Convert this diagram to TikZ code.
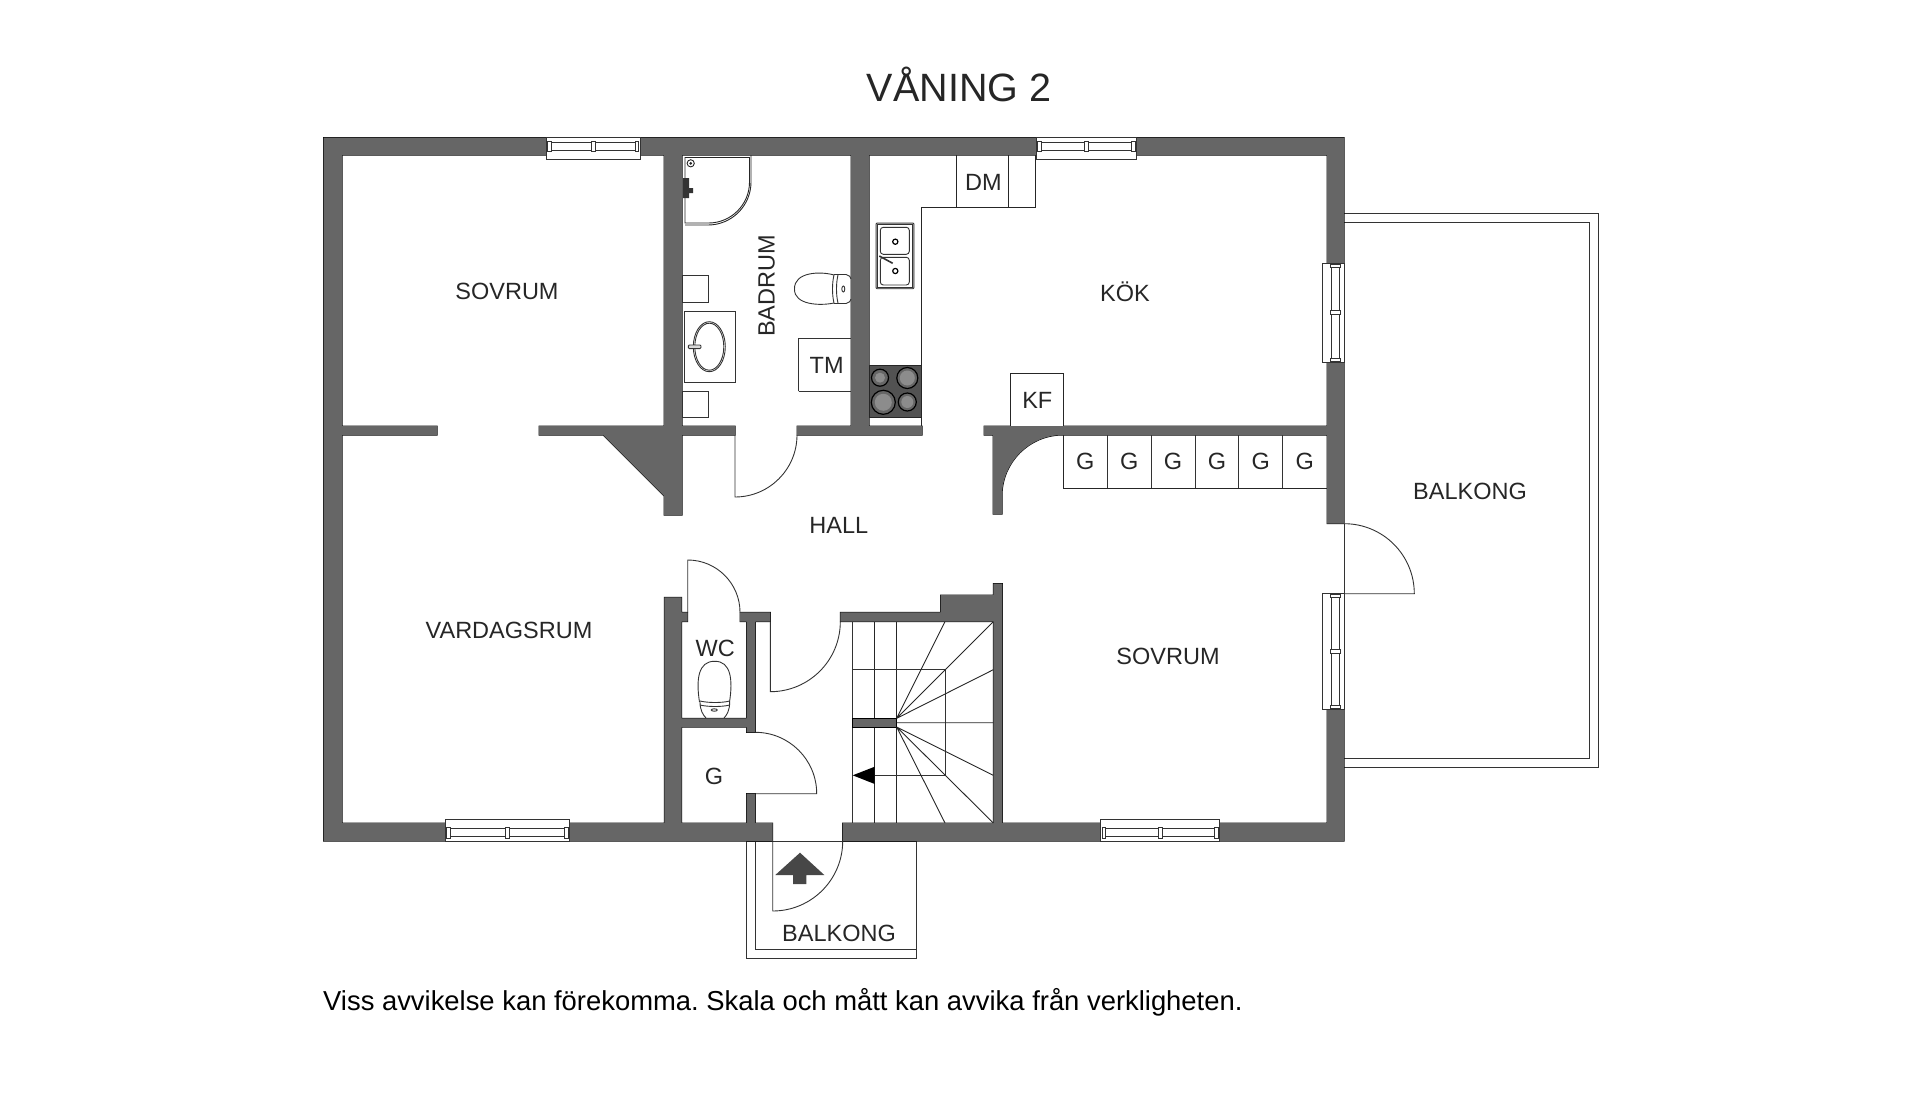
\documentclass[tikz,border=0pt]{standalone}
\usepackage{fontspec}
\setmainfont{Liberation Sans}
\frenchspacing
\definecolor{wallgray}{HTML}{666666}
\definecolor{inkgray}{HTML}{333333}
\tikzset{
  room/.style={text=black!85, font=\fontsize{23.5}{24}\selectfont, inner sep=0pt},
  fixture/.style={draw=black!85, line width=0.9pt},
  light/.style={draw=inkgray, line width=0.9pt},
  door/.style={draw=inkgray, line width=0.9pt},
  glass/.style={draw=black!80, fill=white, line width=0.8pt}
}
% all wall pieces, drawn twice: black edge first, gray fill over it
\newcommand{\wallpieces}{
  (323.5,137.5) rectangle (546,155)
  (640,137.5) rectangle (1036,155)
  (1136.7,137.5) rectangle (1344,155)
  (323.5,137.5) rectangle (342,841)
  (323.5,823) rectangle (445,841)
  (569.4,823) rectangle (772.7,841)
  (842.7,823) rectangle (1100.8,841)
  (1219.6,823) rectangle (1344,841)
  (1327,137.5) rectangle (1344,263.3)
  (1327,362.3) rectangle (1344,523.7)
  (1327,709.3) rectangle (1344,841)
  (664,155) rectangle (682,515)
  (342,426) rectangle (437,435)
  (539,426) rectangle (664,435)
  (603,435) -- (664,496) -- (664,435) -- cycle
  (682,426) rectangle (735,435)
  (797,426) rectangle (922,435)
  (851,155) rectangle (869,426)
  (984,426) rectangle (1327,435)
  (993,435) -- (993,514) -- (1002,514) -- (1002,496) arc[start angle=180,end angle=270,radius=61] -- cycle
  (664.3,597.3) rectangle (681.7,823)
  (681.7,612.3) rectangle (687.7,621.7)
  (740,612.3) rectangle (770.3,621.7)
  (746.7,612.3) rectangle (755.3,732.3)
  (681.7,718.3) rectangle (746.7,727)
  (746.7,793.7) rectangle (755.3,823)
  (840.3,612.3) -- (840.3,621.7) -- (993.3,621.7) -- (993.3,823) -- (1002.3,823) -- (1002.3,583.7) -- (993.3,583.7) -- (993.3,595) -- (940.7,595) -- (940.7,612.3) -- cycle
}
\begin{document}
\begin{tikzpicture}[x=1pt,y=-1pt]
  \useasboundingbox (0,0) rectangle (1920,1095);

  % balconies
  \draw[light] (1344,213.3) -- (1598,213.3) -- (1598,767.7) -- (1344,767.7);
  \draw[light] (1344,222.3) -- (1589,222.3) -- (1589,758.7) -- (1344,758.7);
  \draw[light] (746.7,841) -- (746.7,958.3) -- (916.7,958.3) -- (916.7,841);
  \draw[light] (755,841) -- (755,949.3) -- (916.7,949.3);
  \draw[light] (746.7,841) -- (916.7,841);
  \draw[light] (1344,523.7) -- (1344,593.7);

  % walls
  \draw[black, line width=1pt] \wallpieces;
  \fill[wallgray] \wallpieces;

  % windows along the top and bottom walls
  \foreach \xa/\xb/\ya/\yb/\yc/\yd in {546/640/137.5/159.3/142.5/150.3, 1036/1136.7/137.5/159.3/142.5/150.3,
      445/569.4/819.3/841/828.7/836.7, 1100.8/1219.6/819.3/841/828.7/836.7}{
    \draw[glass] (\xa,\ya) rectangle (\xb,\yb);
    \draw[glass] ({\xa+5},\yc) rectangle ({\xb-5},\yd);
    \draw[glass] ({\xa+1.5},{\yc-1.5}) rectangle ({\xa+5},{\yd+1.5});
    \draw[glass] ({\xb-5},{\yc-1.5}) rectangle ({\xb-1.5},{\yd+1.5});
    \draw[glass] ({(\xa+\xb)/2-2},{\yc-1.5}) rectangle ({(\xa+\xb)/2+2},{\yd+1.5});
  }
  % windows in the right wall
  \foreach \ya/\yb in {263.3/362.3, 593.3/709.3}{
    \draw[glass] (1322.3,\ya) rectangle (1344,\yb);
    \draw[glass] (1331.7,{\ya+4}) rectangle (1339.3,{\yb-4});
    \draw[glass] (1330.2,{\ya+1}) rectangle (1340.8,{\ya+4});
    \draw[glass] (1330.2,{\yb-4}) rectangle (1340.8,{\yb-1});
    \draw[glass] (1330.2,{(\ya+\yb)/2-2}) rectangle (1340.8,{(\ya+\yb)/2+2});
  }

  % doors
  \draw[door] (735,435) -- (735,497) arc[start angle=90,end angle=0,radius=62];
  \draw[door] (687.7,612.3) -- (687.7,560) arc[start angle=-90,end angle=0,radius=52.3];
  \draw[door] (770.3,621.7) -- (770.3,691.7) arc[start angle=90,end angle=0,radius=70];
  \draw[door] (755.3,793.7) -- (816.7,793.7) arc[start angle=0,end angle=-90,radius=61.4];
  \draw[door] (772.7,841) -- (772.7,911) arc[start angle=90,end angle=0,radius=70];
  \draw[door] (1344,593.7) -- (1414.3,593.7) arc[start angle=0,end angle=-90,radius=70];

  % kitchen
  \draw[fixture] (921.3,426) -- (921.3,207.3) -- (1035.7,207.3) -- (1035.7,155);
  \draw[fixture] (956,155) -- (956,207.3) (1008.7,155) -- (1008.7,207.3);
  \draw[fixture, fill=white] (1010.7,426) -- (1010.7,373.7) -- (1063.3,373.7) -- (1063.3,426);
  \draw[fixture, fill=black!68] (869,365) rectangle (921.3,417.3);
  \foreach \cx/\cy/\ra/\rb in {880/377.7/8.5/5, 907.3/378/10.5/7.5, 883.3/402.3/12/8.5, 907.3/402/9/6}{
    \draw[black, line width=1.2pt, fill=black!60] (\cx,\cy) circle[radius=\ra];
    \fill[black!45] (\cx,\cy) circle[radius=\rb];
  }
  \draw[light, rounded corners=1pt, fill=black!30] (876,223) rectangle (914,288.7);
  \draw[light, fill=white] (877.5,224.5) rectangle (912.5,287.2);
  \draw[light, rounded corners=3pt] (880.3,227.3) rectangle (909.3,254.3);
  \draw[light, rounded corners=3pt] (880.3,257.3) rectangle (909.3,285);
  \foreach \cy in {241.7, 271}{
    \draw[black, line width=1.2pt] (895.3,\cy) circle[radius=2.6];
  }
  \draw[light, line width=1.6pt] (879.3,256) -- (892.7,263.3);

  % closets
  \draw[fixture] (1063.3,435) -- (1063.3,488) -- (1327,488);
  \foreach \x in {1107.3,1151,1195,1238.7,1282.7}{
    \draw[light] (\x,435) -- (\x,488);
  }

  % bathroom
  \draw[fixture] (685,157.5) -- (749.5,157.5) -- (749.5,182) arc[start angle=0,end angle=90,radius=41] -- (685,223) -- cycle;
  \draw[fixture] (751,155) -- (751,182) arc[start angle=0,end angle=90,radius=43] -- (685,225);
  \draw[fixture] (690.7,163.3) circle[radius=3.6];
  \fill[black!85] (690.7,163.3) circle[radius=1.5];
  \fill[inkgray] (683,178) rectangle (689,198) (686,188) rectangle (693,193);
  \draw[light] (682,275.7) rectangle (708.7,302.3);
  \draw[light] (684,311) rectangle (735,382.7);
  \draw[light] (682,391.3) rectangle (708.7,417.3);
  \draw[light] (709.3,346.7) ellipse[x radius=16,y radius=25];
  \draw[light] (709.3,346.7) ellipse[x radius=14.5,y radius=23.5];
  \draw[light, rounded corners=1pt, fill=black!15] (688.3,345) rectangle (701,348.6);
  \draw[light] (798.7,391.3) -- (798.7,338.7) -- (851,338.7) (798.7,391.3) -- (851,391.3);
  % toilet, bathroom
  \draw[light] (834,275) .. controls (820,271) and (794,272) .. (794.5,289) .. controls (794,305) and (820,306) .. (834,303);
  \draw[light] (834,275) .. controls (832,283) and (832,295) .. (834,303) (838,275) .. controls (836,283) and (836,295) .. (838,303);
  \draw[light] (834,274.5) -- (846,274.5) .. controls (849,275) and (851,277) .. (851,279) (834,303.5) -- (846,303.5) .. controls (849,303) and (851,301) .. (851,299);
  \draw[light] (843.3,289) ellipse[x radius=1.5,y radius=3];

  % toilet, WC
  \draw[light] (699.5,702) .. controls (696,680) and (698,661) .. (714.7,661.3) .. controls (731,661) and (733,680) .. (729.5,702);
  \draw[light] (700,701) .. controls (708,703) and (722,703) .. (729.7,701) (700,705) .. controls (708,707) and (722,707) .. (729.7,705);
  \draw[light] (700,702) .. controls (700,710) and (703,715) .. (706,718) (729.7,702) .. controls (729.7,710) and (727,715) .. (724,718);
  \draw[light] (714.3,710) ellipse[x radius=3,y radius=1.2];

  % stairs
  \draw[light] (852.7,621.7) -- (852.7,823);
  \draw[fixture] (874.7,621.7) -- (874.7,823) (896.7,621.7) -- (896.7,823);
  \draw[light] (852.7,669.7) -- (945,669.7) -- (945,775.3) -- (874.7,775.3);
  \fill[wallgray] (852.7,718.3) rectangle (896.7,727);
  \draw[black, line width=0.8pt] (852.7,718.3) rectangle (896.7,727);
  \draw[fixture] (896.7,718.3) -- (945,621.7) (896.7,718.3) -- (993.3,621.7) (896.7,718.3) -- (993.3,669.7)
    (896.7,722.7) -- (993.3,722.7)
    (896.7,727) -- (993.3,775.3) (896.7,727) -- (993.3,823) (896.7,727) -- (945,823);
  \fill[black] (852.7,775.3) -- (874.7,766.7) -- (874.7,784) -- cycle;

  % entrance arrow
  \fill[inkgray!90] (800,852.7) -- (824.3,875) -- (806.3,875) -- (806.3,884) -- (793,884) -- (793,875) -- (775.3,875) -- cycle;

  % labels
  \node[font=\fontsize{39.5}{40}\selectfont, text=black!85, inner sep=0pt] (title) at (959,84.5) {VÅNING 2};
  \node[room] (sovrumA) at (507,291.5) {SOVRUM};
  \node[room] (sovrumB) at (1168,656.5) {SOVRUM};
  \node[room] (kok) at (1125,292) {KÖK};
  \node[room] (hall) at (838.8,525) {HALL};
  \node[room] (vardagsrum) at (509,630.5) {VARDAGSRUM};
  \node[room, rotate=90] (badrum) at (766.7,286) {BADRUM};
  \node[room] (balkongA) at (1470,491.5) {BALKONG};
  \node[room] (balkongB) at (839,933) {BALKONG};
  \node[room] (dm) at (983.3,182) {DM};
  \node[room] (tm) at (826.7,365.5) {TM};
  \node[room] (kf) at (1037.3,400.5) {KF};
  \node[room] (wc) at (715.3,648) {WC};
  \node[room] (gwc) at (714,776) {G};
  \foreach \x [count=\i] in {1085.3,1129.2,1173,1216.9,1260.7,1304.8}{
    \node[room] (g\i) at (\x,461.5) {G};
  }
  \node[anchor=west, font=\fontsize{27.4}{28}\selectfont, text=black, inner sep=0pt] (note) at (323,1002) {Viss avvikelse kan förekomma. Skala och mått kan avvika från verkligheten.};
\end{tikzpicture}
\end{document}
